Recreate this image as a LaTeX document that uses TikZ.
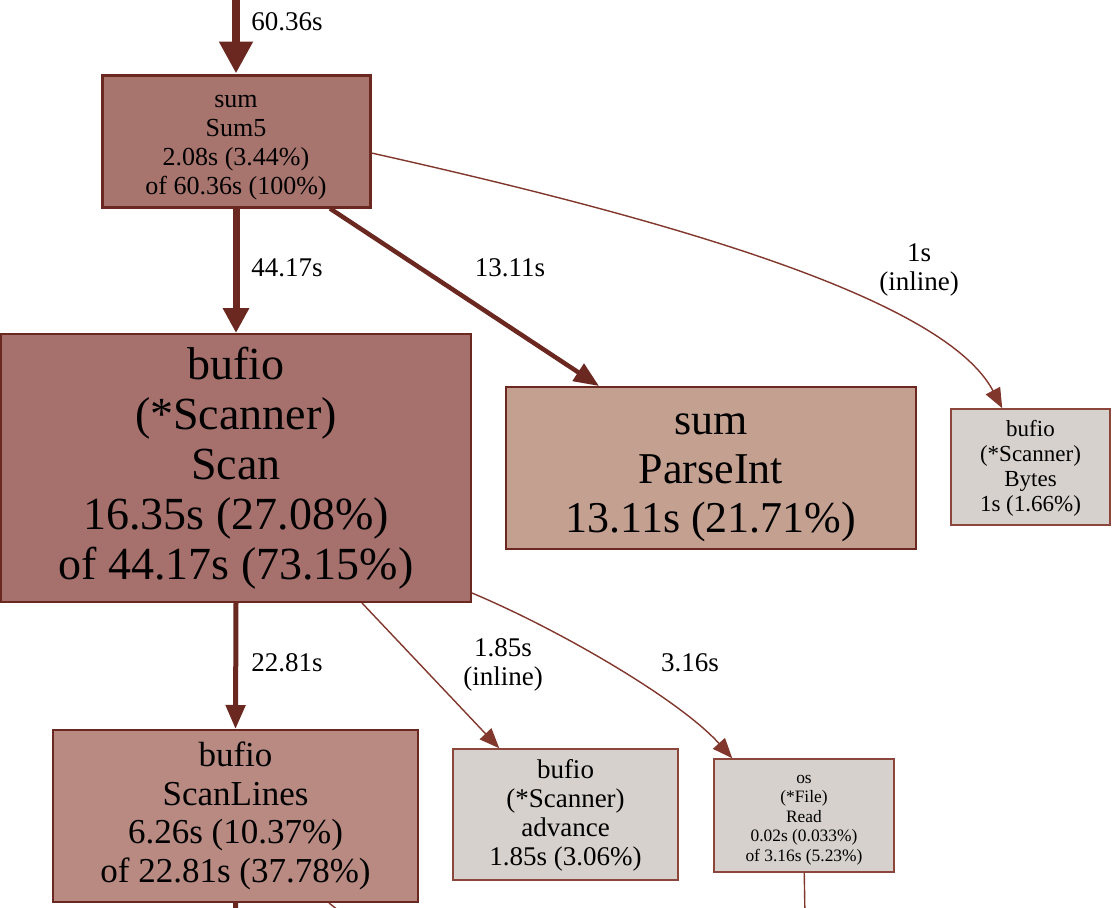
\documentclass[tikz,border=0pt]{standalone}
\usepackage{fontspec}
\setmainfont{Liberation Serif}
\usetikzlibrary{arrows.meta,calc}
\definecolor{edgedark}{RGB}{107,40,33}
\definecolor{edgelight}{RGB}{130,55,45}
\definecolor{bordlight}{RGB}{140,70,60}
\definecolor{fillsum}{RGB}{168,116,110}
\definecolor{fillscan}{RGB}{166,113,108}
\definecolor{fillparse}{RGB}{196,160,145}
\definecolor{filllines}{RGB}{184,138,129}
\definecolor{fillgray}{RGB}{214,209,204}
\newcommand{\lowered}[2]{\raisebox{-#1}[\height][\depth]{\begin{tabular}{@{}c@{}}#2\end{tabular}}}
\tikzset{
  fn/.style={draw=edgedark, rectangle, inner sep=0pt, align=center, text=black},
  lbl/.style={inner sep=0pt, align=center, text=black, font=\fontsize{27}{29}\selectfont},
  edge/.style={draw=edgedark},
  thinedge/.style={draw=edgelight, line width=1.4pt, -{Triangle[length=20pt,width=16pt]}},
}
\begin{document}
\begin{tikzpicture}[x=1pt,y=-1pt]
\useasboundingbox (0,0) rectangle (1112,908);
\clip (0,0) rectangle (1112,908);
\fill[white] (0,0) rectangle (1112,908);

% nodes
\node[fn, line width=3pt, fill=fillsum, minimum width=268pt, minimum height=132pt,
  font=\fontsize{26}{29}\selectfont] (sum5) at (236,141)
  {\lowered{4pt}{sum\\Sum5\\2.08s (3.44\%)\\of 60.36s (100\%)}};
\node[fn, line width=2pt, fill=fillscan, minimum width=470pt, minimum height=268pt,
  font=\fontsize{46}{50}\selectfont] (scan) at (236,468)
  {bufio\\(*Scanner)\\Scan\\16.35s (27.08\%)\\of 44.17s (73.15\%)};
\node[fn, line width=2pt, fill=fillparse, minimum width=410pt, minimum height=162pt,
  font=\fontsize{44}{49}\selectfont] (parse) at (711,468)
  {\lowered{6pt}{sum\\ParseInt\\13.11s (21.71\%)}};
\node[fn, draw=bordlight, line width=1.5pt, fill=fillgray, minimum width=159pt, minimum height=116pt,
  font=\fontsize{23}{25}\selectfont] (bytes) at (1030.5,467)
  {\lowered{2pt}{bufio\\(*Scanner)\\Bytes\\1s (1.66\%)}};
\node[fn, line width=2pt, fill=filllines, minimum width=365pt, minimum height=172pt,
  font=\fontsize{35}{38.5}\selectfont] (lines) at (235.5,816)
  {bufio\\ScanLines\\6.26s (10.37\%)\\of 22.81s (37.78\%)};
\node[fn, draw=bordlight, line width=1.5pt, fill=fillgray, minimum width=225pt, minimum height=131pt,
  font=\fontsize{27}{29}\selectfont] (adv) at (565.5,814.5)
  {\lowered{2pt}{bufio\\(*Scanner)\\advance\\1.85s (3.06\%)}};
\node[fn, draw=bordlight, line width=1.5pt, fill=fillgray, minimum width=180pt, minimum height=113pt,
  font=\fontsize{17.4}{19.5}\selectfont] (read) at (804,815.5)
  {\lowered{3pt}{os\\(*File)\\Read\\0.02s (0.033\%)\\of 3.16s (5.23\%)}};

% free ends
\coordinate (top) at (236,-10);
\coordinate (outA) at (236,918);
\coordinate (outB) at (348,918);
\coordinate (outC) at (805,918);

% edges
\draw[edge, line width=8pt, -{Triangle[length=32pt,width=32pt]}] (top) -- (sum5.north);
\draw[edge, line width=7pt, -{Triangle[length=25pt,width=25pt]}] (sum5.south) -- (scan.north);
\draw[edge, line width=4.5pt, -{Triangle[length=25pt,width=20pt]}] ($(sum5.south)+(94,0)$) -- ($(parse.north west)+(94,0)$);
\draw[thinedge] ($(sum5.east)+(0,12)$) .. controls (680,222) and (945,300) .. ($(bytes.north west)+(52,0)$);
\draw[edge, line width=5pt, -{Triangle[length=24pt,width=19pt]}] (scan.south) -- (lines.north);
\draw[thinedge] ($(scan.south west)+(362,0)$) -- ($(adv.north west)+(47,0)$);
\draw[thinedge] ($(scan.south east)+(0,-10)$) .. controls (560,630) and (680,700) .. ($(read.north west)+(19,0)$);
\draw[edge, line width=5pt] (lines.south) -- (outA);
\draw[edgelight, line width=1.4pt] ($(lines.south west)+(277,0)$) -- (outB);
\draw[edgelight, line width=1.4pt] ($(read.south west)+(91,0)$) -- (outC);

% edge labels
\node[lbl] (l1) at (287,22) {60.36s};
\node[lbl] (l2) at (287,268) {44.17s};
\node[lbl] (l3) at (510,268) {13.11s};
\node[lbl] (l4) at (919,270) {1s\\(inline)};
\node[lbl] (l5) at (287,663) {22.81s};
\node[lbl] (l6) at (503,665) {1.85s\\(inline)};
\node[lbl] (l7) at (690,663) {3.16s};
\end{tikzpicture}
\end{document}
